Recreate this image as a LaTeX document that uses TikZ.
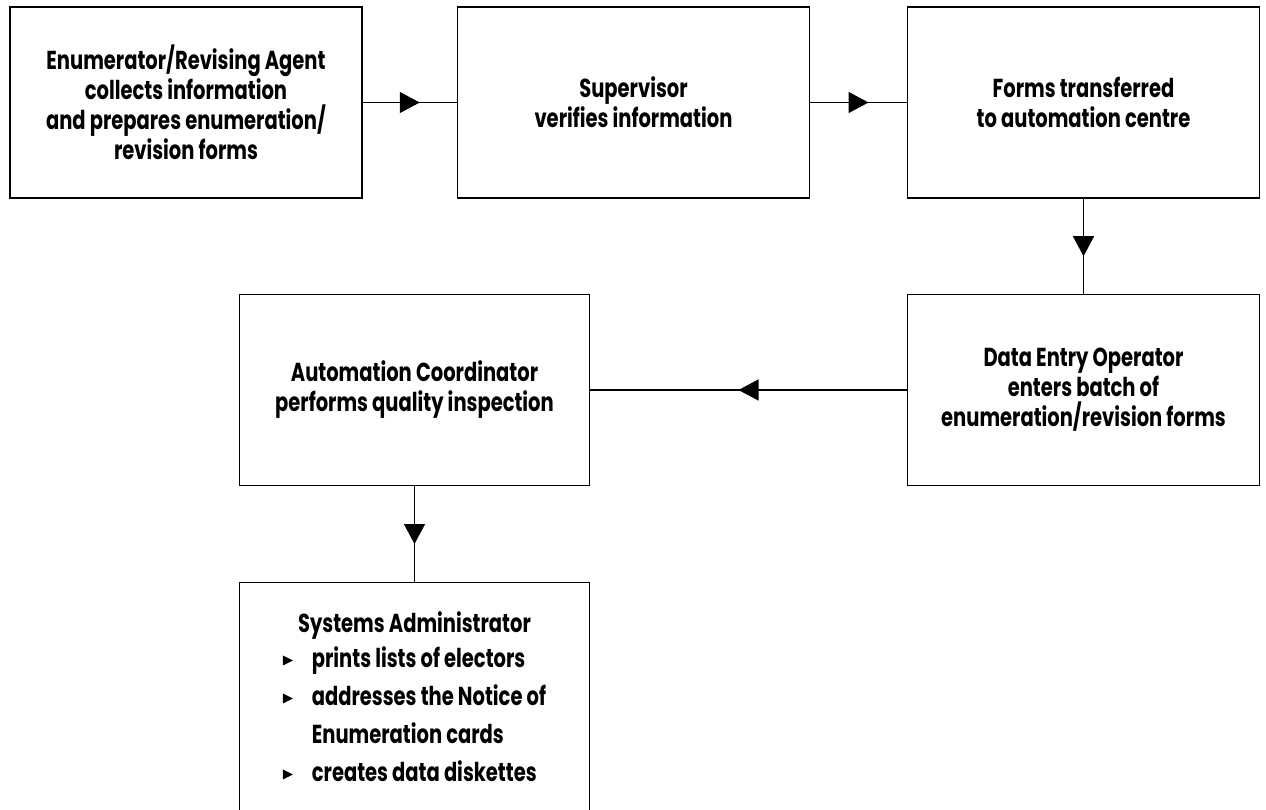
\documentclass[tikz,border=0pt]{standalone}
\usepackage{fontspec}
\setmainfont[FakeStretch=0.75]{Poppins}
\usepackage{tikz}
\usetikzlibrary{positioning, arrows.meta, decorations.markings}
\newcommand{\pointer}{\tikz[baseline=-2pt]\fill (0,0) -- (0,10pt) -- (10pt,5pt) -- cycle;}

\begin{document}
\begin{tikzpicture}[node distance=3cm,on grid,
    block/.style={draw, line width=1.7pt, minimum width=352pt, minimum height=191pt,
      inner sep=0pt, align=center, font=\fontsize{26}{30}\selectfont\bfseries},
    flow/.style={draw, line width=1.3pt, decoration={markings,
      mark=at position 0.5 with {\arrow[xshift=10pt]{Triangle[length=20pt,width=21pt]}}},
      postaction={decorate}}]
    \useasboundingbox (-186pt,102.5pt) rectangle (1080pt,-707.5pt);
    \node[block] (b0) {Enumerator/Revising Agent\\ collects information\\ and prepares enumeration/\\ revision forms};
    \node[block] (b1) [right=447.5pt of b0] {Supervisor\\ verifies information};
    \node[block] (b2) [right=450pt of b1] {Forms transferred\\ to automation centre};
    \node[block] (b3) [below=287.5pt of b2] {Data Entry Operator\\ enters batch of\\ enumeration/revision forms};
    \node[block, minimum width=350pt] (b4) [left=669pt of b3] {Automation Coordinator\\ performs quality inspection};
    \node[block, minimum width=350pt, minimum height=240pt, font=\fontsize{26}{38}\selectfont\bfseries] (b5) [below=312.5pt of b4]
      {Systems Administrator\\
       \begin{tabular}{@{}l@{\hspace{19pt}}l@{}}
         \pointer & prints lists of electors\\
         \pointer & addresses the Notice of\\
                  & Enumeration cards\\
         \pointer & creates data diskettes
       \end{tabular}};
    \path
    (b0) edge[flow] (b1)
    (b1) edge[flow] (b2)
    (b2) edge[flow] (b3)
    (b3) edge[flow] (b4)
    (b4) edge[flow] (b5)
     ;
  \end{tikzpicture}
\end{document}
